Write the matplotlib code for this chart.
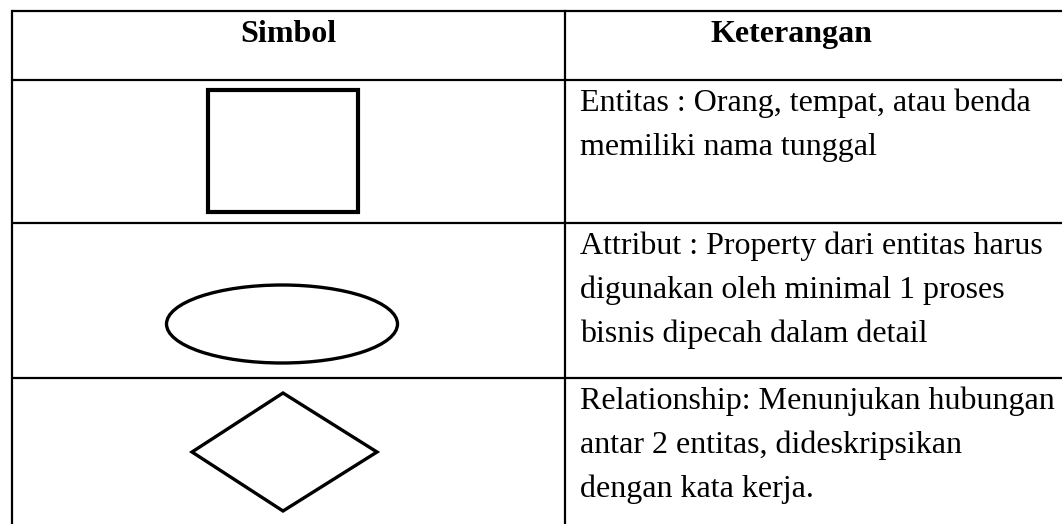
import matplotlib.pyplot as plt
from matplotlib.patches import Rectangle, Ellipse, Polygon

# table content
headers = ["Simbol", "Keterangan"]
shapes = ["rectangle", "ellipse", "diamond"]
descriptions = [
    "Entitas : Orang, tempat, atau benda\nmemiliki nama tunggal",
    "Attribut : Property dari entitas harus\ndigunakan oleh minimal 1 proses\nbisnis dipecah dalam detail",
    "Relationship: Menunjukan hubungan\nantar 2 entitas, dideskripsikan\ndengan kata kerja.",
]

# layout (pixels)
W, H = 1062, 524
left, mid, right = 12, 565, 1070
row_lines = [11, 80, 223, 378, 530]
text_offset = 31
line_gap = 44
font = "Liberation Serif"

fig = plt.figure(figsize=(W / 100, H / 100), dpi=100)
ax = fig.add_axes([0, 0, 1, 1])
ax.set_xlim(0, W)
ax.set_ylim(H, 0)
ax.axis("off")

# grid lines
for y in row_lines:
    ax.plot([left, right], [y, y], color="black", lw=1.6, solid_capstyle="butt")
for x in (left, mid):
    ax.plot([x, x], [row_lines[0], row_lines[-1]], color="black", lw=1.6)

# header
ax.text((left + mid) / 2, 42, headers[0], family=font, weight="bold",
        fontsize=23, ha="center", va="baseline")
ax.text(791, 42, headers[1], family=font, weight="bold",
        fontsize=23, ha="center", va="baseline")

# symbols
ax.add_patch(Rectangle((208, 90), 150, 122, fill=False, lw=3.0, ec="black"))
ax.add_patch(Ellipse((282, 324), 231, 78, fill=False, lw=2.4, ec="black"))
ax.add_patch(Polygon([(283, 393), (377, 452), (283, 511), (192, 452)],
                     closed=True, fill=False, lw=2.4, ec="black"))

# descriptions
for i, desc in enumerate(descriptions):
    top = row_lines[i + 1]
    for j, line in enumerate(desc.split("\n")):
        ax.text(580, top + text_offset + j * line_gap, line, family=font,
                fontsize=23, ha="left", va="baseline")

plt.savefig("out.png", dpi=100)
